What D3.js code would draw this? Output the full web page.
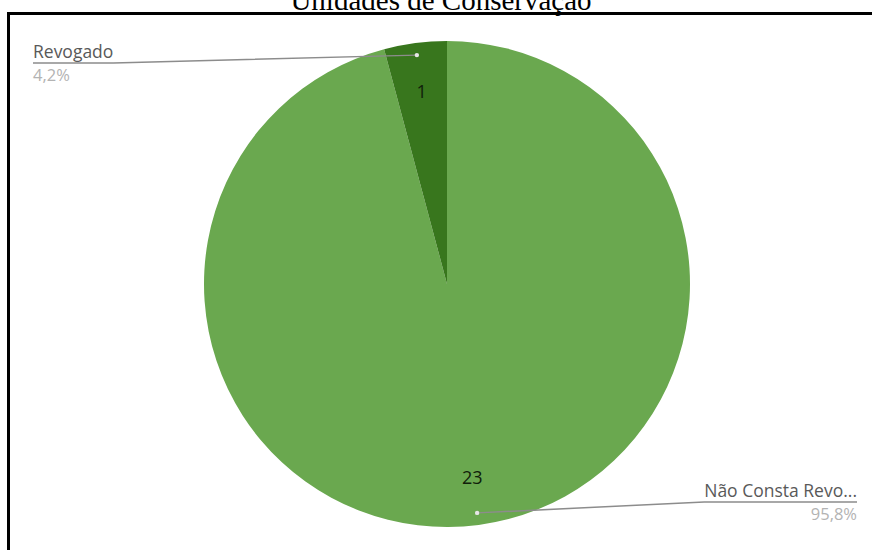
<!DOCTYPE html>
<html>
<head>
<meta charset="utf-8">
<script src="https://cdn.jsdelivr.net/npm/d3@7"></script>
<style>
  html, body { margin: 0; padding: 0; background: #fff; }
  svg { display: block; }
</style>
</head>
<body>
<svg id="chart" width="872" height="550"></svg>
<script>
// Situação das Unidades de Conservação
const categories = ["Não Consta Revo...", "Revogado"];
const values = [23, 1];
const percentLabels = ["95,8%", "4,2%"];
const colors = ["#6aa84f", "#38761d"];

const W = 872, H = 550;
const svg = d3.select("#chart");

// Title (runs off the top edge of the page)
svg.append("text")
  .attr("x", 441).attr("y", 10)
  .attr("text-anchor", "middle")
  .attr("font-family", "'Liberation Serif', 'Times New Roman', serif")
  .attr("font-size", 29)
  .attr("fill", "#000")
  .text("Unidades de Conservação");

// Chart frame
svg.append("rect")
  .attr("x", 8.5).attr("y", 13.5)
  .attr("width", 900).attr("height", 600)
  .attr("fill", "none")
  .attr("stroke", "#000")
  .attr("stroke-width", 3);

const cx = 447, cy = 284, R = 243;
const g = svg.append("g").attr("transform", `translate(${cx},${cy})`);

const pie = d3.pie().sort(null).value(d => d)(values);
const arc = d3.arc().innerRadius(0).outerRadius(R);

g.selectAll("path.slice")
  .data(pie)
  .join("path")
  .attr("class", "slice")
  .attr("d", arc)
  .attr("fill", (d, i) => colors[i]);

// Value labels inside slices
g.selectAll("text.val")
  .data(pie)
  .join("text")
  .attr("class", "val")
  .attr("transform", d => {
    const a = (d.startAngle + d.endAngle) / 2;
    return `translate(${Math.sin(a) * R * 0.8},${-Math.cos(a) * R * 0.8})`;
  })
  .attr("text-anchor", "middle")
  .attr("dominant-baseline", "central")
  .attr("font-family", "'Open Sans', 'Noto Sans', sans-serif")
  .attr("font-size", 18)
  .attr("fill", "#10200a")
  .text(d => d.data);

// Leader lines and external labels
const leaders = [
  { idx: 0, anchor: "end", tx: 857, ty: 502 },
  { idx: 1, anchor: "start", tx: 33, ty: 63 }
];

leaders.forEach(L => {
  const d = pie[L.idx];
  const a = (d.startAngle + d.endAngle) / 2;
  const px = cx + Math.sin(a) * R * 0.95;
  const py = cy - Math.cos(a) * R * 0.95;

  const name = svg.append("text")
    .attr("x", L.tx).attr("y", L.ty - 5)
    .attr("text-anchor", L.anchor)
    .attr("font-family", "'Open Sans', 'Noto Sans', sans-serif")
    .attr("font-size", 17.5)
    .attr("fill", "#595959")
    .text(categories[L.idx]);

  svg.append("text")
    .attr("x", L.tx).attr("y", L.ty + 18)
    .attr("text-anchor", L.anchor)
    .attr("font-family", "'Open Sans', 'Noto Sans', sans-serif")
    .attr("font-size", 16.5)
    .attr("fill", "#b3b3b3")
    .text(percentLabels[L.idx]);

  const textW = name.node().getComputedTextLength();
  const elbowX = L.anchor === "end" ? L.tx - textW : L.tx + textW;

  svg.append("path")
    .attr("d", d3.line()([[px, py], [elbowX, L.ty], [L.tx, L.ty]]))
    .attr("fill", "none")
    .attr("stroke", "#8c8c8c")
    .attr("stroke-width", 1.5);

  svg.append("circle")
    .attr("cx", px).attr("cy", py).attr("r", 2.2)
    .attr("fill", "#e6e6e6");
});
</script>
</body>
</html>
